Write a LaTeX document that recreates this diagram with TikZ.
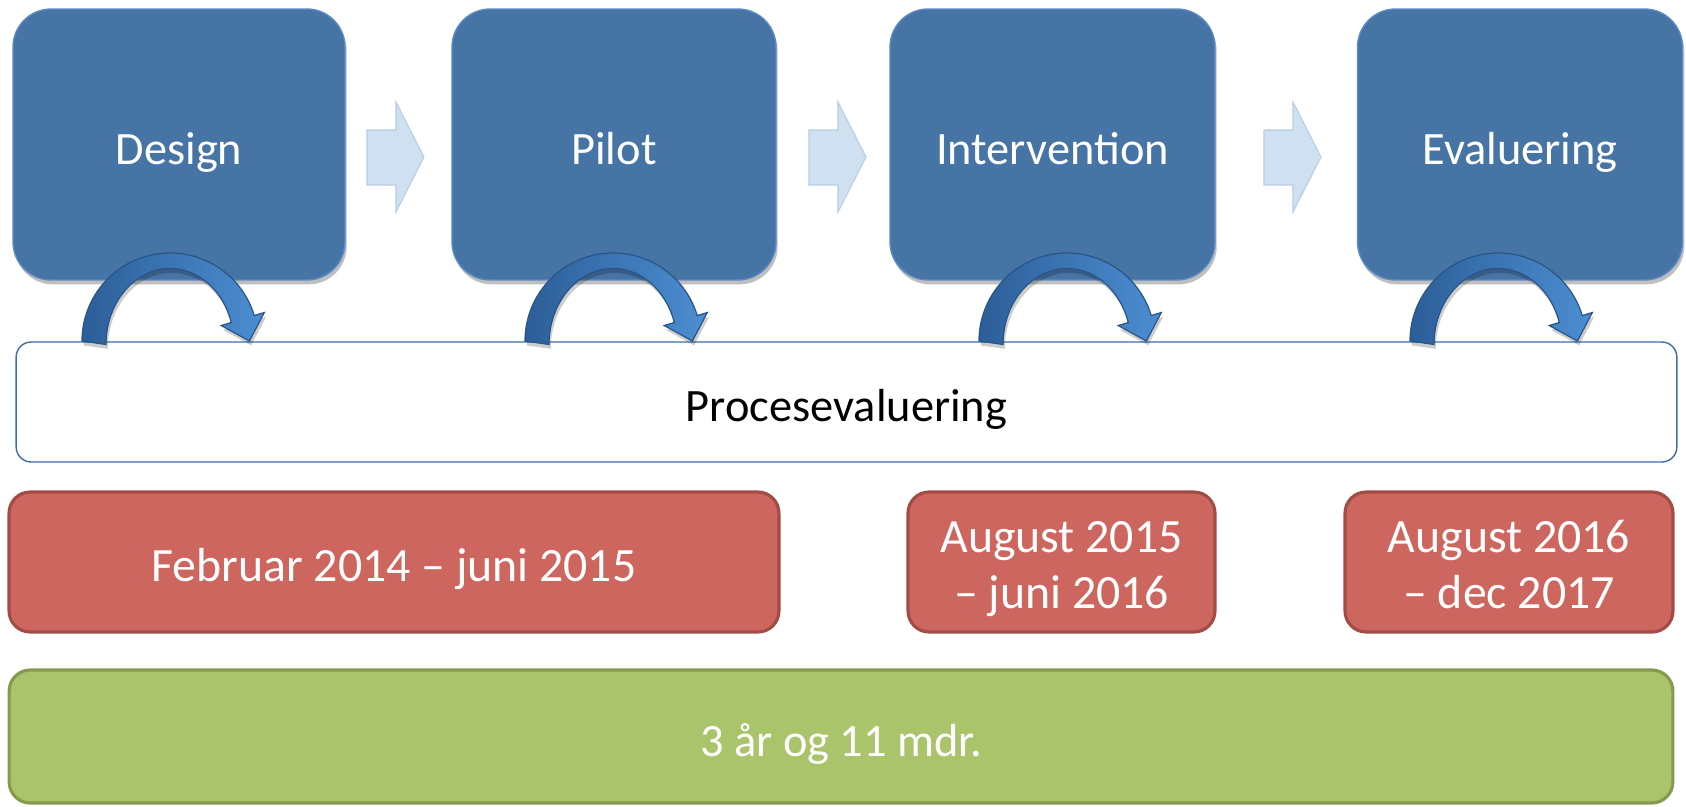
\documentclass[tikz,border=0pt]{standalone}
\usepackage{fontspec}
\setmainfont{Carlito}
\usetikzlibrary{shadows}
\definecolor{bluefill}{HTML}{4674A4}
\definecolor{blueline}{HTML}{5B8BC4}
\definecolor{lightarrow}{HTML}{CFE0F1}
\definecolor{lightarrowline}{HTML}{B6CDE7}
\definecolor{redfill}{HTML}{CD665E}
\definecolor{redline}{HTML}{A24C46}
\definecolor{greenfill}{HTML}{AAC46C}
\definecolor{greenline}{HTML}{86994F}
\definecolor{procline}{HTML}{3D6FA6}
\definecolor{arcdark}{HTML}{2C5E98}
\definecolor{arclight}{HTML}{4C8ED2}
\definecolor{arcline}{HTML}{285689}
\tikzset{
  x=0.02cm, y=0.02cm,
  txt/.style={font=\fontsize{26.4}{31.7}\selectfont, align=center, inner sep=0pt, outer sep=0pt,
    text height=28pt, text depth=5.4pt},
  phase/.style={txt, text=white, fill=bluefill, draw=blueline, line width=0.8pt,
    rounded corners=0.76cm, minimum height=5.42cm,
    drop shadow={shadow xshift=1pt, shadow yshift=-2.5pt, opacity=0.25, fill=black}},
  procbox/.style={txt, text=black, fill=white, draw=procline, line width=0.8pt,
    rounded corners=0.3cm, minimum height=2.4cm},
  datebox/.style={txt, font=\fontsize{27.2}{31.75}\selectfont, text=white, fill=redfill,
    draw=redline, line width=1.8pt, rounded corners=0.42cm, minimum height=2.8cm,
    text height=27.5pt, text depth=5.4pt},
  twoline/.style={text height=53.2pt, text depth=0pt},
  totalbox/.style={txt, text=white, fill=greenfill, draw=greenline, line width=1.8pt,
    rounded corners=0.42cm, minimum height=2.66cm},
  blockarrow/.style={fill=lightarrow, draw=lightarrowline, line width=0.6pt},
  curvearrow/.style={left color=arcdark, right color=arclight, draw=arcline, line width=0.7pt,
    drop shadow={shadow xshift=1pt, shadow yshift=-2.5pt, opacity=0.2, fill=black}},
}
\newcommand{\bendarrow}[1]{%
  \path[curvearrow] ({#1-88},465) arc[start angle=180, end angle=16.8, radius=88]
    -- ({#1+98.5*cos(16.8)},{465+98.5*sin(16.8)})
    -- ({#1+79.4},465)
    -- ({#1+53.5*cos(16.8)},{465+53.5*sin(16.8)})
    -- ({#1+64*cos(16.8)},{465+64*sin(16.8)})
    arc[start angle=16.8, end angle=180, x radius=64, y radius=76] -- cycle;}
\newcommand{\flatarrow}[1]{%
  \path[blockarrow] (#1,676) -- ({#1+29},676) -- ({#1+29},704) -- ({#1+57},649)
    -- ({#1+29},594) -- ({#1+29},621) -- (#1,621) -- cycle;}
\begin{document}
\begin{tikzpicture}
\useasboundingbox (0,0) rectangle (1686,806);
% phase boxes
\node[phase, minimum width=6.64cm] (design) at (179,661.5) {Design};
\node[phase, minimum width=6.48cm] (pilot) at (614,661.5) {Pilot};
\node[phase, minimum width=6.5cm] (interv) at (1052.5,661.5) {Intervention};
\node[phase, minimum width=6.5cm] (eval) at (1520,661.5) {Evaluering};
% block arrows between phases
\flatarrow{367}
\flatarrow{809}
\flatarrow{1264}
% process evaluation
\node[procbox, minimum width=33.22cm] (proc) at (846.5,404) {Procesevaluering};
% curved arrows
\bendarrow{170}
\bendarrow{613}
\bendarrow{1067}
\bendarrow{1498}
% dates
\node[datebox, minimum width=15.4cm] (d1) at (394,244) {Februar 2014 – juni 2015};
\node[datebox, twoline, minimum width=6.14cm] (d2) at (1061.5,244) {August 2015\\– juni 2016};
\node[datebox, twoline, minimum width=6.56cm] (d3) at (1509,244) {August 2016\\– dec 2017};
% total
\node[totalbox, minimum width=33.28cm] (total) at (841,69.5) {3 år og 11 mdr.};
\end{tikzpicture}
\end{document}
